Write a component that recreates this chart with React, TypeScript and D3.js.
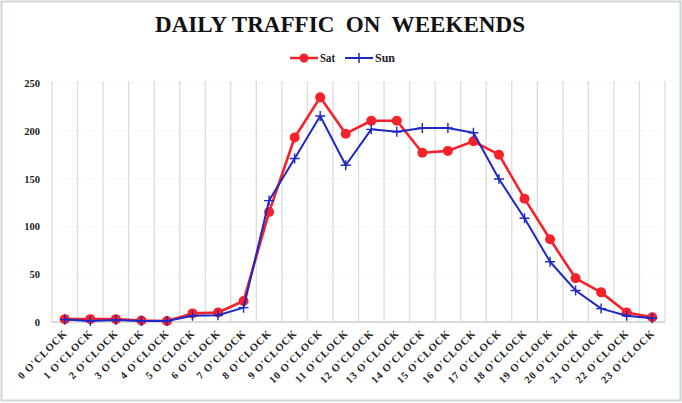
import React from "react";
import * as d3 from "d3";

const hours: string[] = Array.from({ length: 24 }, (_, i) => `${i} O'CLOCK`);
const satValues: number[] = [3, 3, 3, 1.5, 1, 9, 10, 22, 115, 193, 235, 197, 210.5, 210.5, 177, 179, 189, 175, 129, 86.5, 45.7, 31, 10, 5];
const sunValues: number[] = [2.5, 1, 2, 1, 1, 6.6, 7, 15, 127, 171, 215.5, 164, 201.5, 199, 203, 203, 198, 149.6, 108.5, 63, 33, 14, 6.6, 4];
const yTicks: number[] = [0, 50, 100, 150, 200, 250];
const seriesNames: string[] = ["Sat", "Sun"];

const W = 682, H = 403;
const M = { left: 52, right: 17, top: 83, bottom: 81 };
const RED = "#f5222b";
const BLUE = "#1f27c4";
const FONT = "'Liberation Serif', 'DejaVu Serif', serif";

export default function App() {
  const x = d3.scaleBand<string>().domain(hours).range([M.left, W - M.right]).padding(0);
  const y = d3.scaleLinear().domain([0, 250]).range([H - M.bottom, M.top]);
  const cx = (h: string) => (x(h) as number) + x.bandwidth() / 2;
  const line = d3.line<number>().x((_, i) => cx(hours[i])).y((d) => y(d));

  return (
    <svg width={W} height={H} style={{ position: "absolute", left: 0, top: 0, background: "#fff" }}>
      <rect x={1.5} y={1.5} width={W - 3} height={H - 4} fill="#fff" stroke="#cfd6d6" strokeWidth={2} />
      <text x={155} y={32} textLength={370} lengthAdjust="spacingAndGlyphs" fontFamily={FONT} fontWeight="bold" fontSize={22.5} fill="#111" style={{ whiteSpace: "pre" }}>
        {"DAILY TRAFFIC  ON  WEEKENDS"}
      </text>
      {/* legend */}
      <g fontFamily={FONT} fontSize={12} fontWeight="bold" fill="#222">
        <line x1={290} x2={318} y1={58} y2={58} stroke={RED} strokeWidth={2.5} />
        <circle cx={304} cy={58} r={4.5} fill={RED} />
        <text x={320} y={62} textLength={15} lengthAdjust="spacingAndGlyphs">{seriesNames[0]}</text>
        <line x1={345} x2={373} y1={58} y2={58} stroke={BLUE} strokeWidth={2} />
        <path d={`M359,53V63M354,58H364`} stroke={BLUE} strokeWidth={1.5} />
        <text x={375} y={62} textLength={20} lengthAdjust="spacingAndGlyphs">{seriesNames[1]}</text>
      </g>
      {/* horizontal grid */}
      {yTicks.map((t) => (
        <line key={"h" + t} x1={M.left} x2={W - M.right} y1={y(t)} y2={y(t)} stroke="#e4e8e8" strokeWidth={1} strokeDasharray="1,2" />
      ))}
      {/* vertical grid */}
      {hours.map((h) => (
        <line key={"v" + h} x1={x(h) as number} x2={x(h) as number} y1={M.top - 2} y2={y(0)} stroke="#d7dede" strokeWidth={1.3} />
      ))}
      <line x1={W - M.right} x2={W - M.right} y1={M.top - 2} y2={y(0)} stroke="#d7dede" strokeWidth={1.3} />
      <line x1={M.left} x2={W - M.right} y1={y(0)} y2={y(0)} stroke="#c8d0d0" strokeWidth={1.3} />
      {/* y ticks */}
      {yTicks.map((t) => (
        <text key={"yt" + t} x={40} y={y(t) + 4} textAnchor="end" fontFamily={FONT} fontSize={10.5} fontWeight="bold" fill="#222">
          {t}
        </text>
      ))}
      {/* x labels */}
      {hours.map((h) => (
        <text
          key={"xl" + h}
          transform={`translate(${cx(h) + 3},${y(0) + 12}) rotate(-45)`}
          textAnchor="end"
          fontFamily={FONT}
          fontSize={10.5}
          fontWeight="bold"
          letterSpacing={0.8}
          fill="#222"
        >
          {h}
        </text>
      ))}
      {/* Sat */}
      <path d={line(satValues) as string} fill="none" stroke={RED} strokeWidth={2.6} strokeLinejoin="round" />
      {satValues.map((v, i) => (
        <circle key={"s" + i} cx={cx(hours[i])} cy={y(v)} r={5} fill={RED} />
      ))}
      {/* Sun */}
      <path d={line(sunValues) as string} fill="none" stroke={BLUE} strokeWidth={2} strokeLinejoin="round" />
      {sunValues.map((v, i) => (
        <path key={"u" + i} d={`M${cx(hours[i])},${y(v) - 5}V${y(v) + 5}M${cx(hours[i]) - 5},${y(v)}H${cx(hours[i]) + 5}`} stroke={BLUE} strokeWidth={1.4} />
      ))}
    </svg>
  );
}
